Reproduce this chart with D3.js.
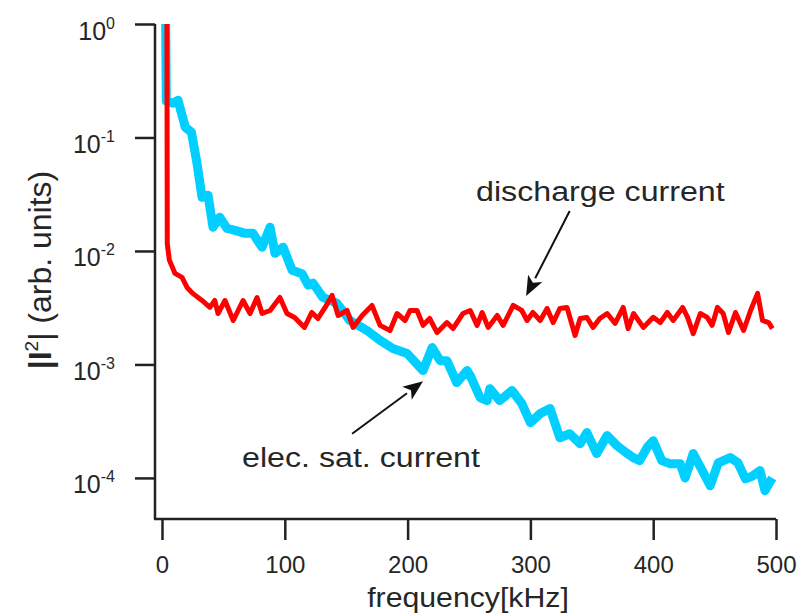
<!DOCTYPE html>
<html>
<head>
<meta charset="utf-8">
<script src="https://cdn.jsdelivr.net/npm/d3@7"></script>
<style>
  body { margin: 0; background: #fff; }
  svg { display: block; }
  text { font-family: "Liberation Sans", Arial, Helvetica, sans-serif; fill: #262626; }
</style>
</head>
<body>
<svg id="chart" width="798" height="614"></svg>
<script>
// Power spectra |I^2| versus frequency (kHz)
const xTickValues = [0, 100, 200, 300, 400, 500];
const yTickExponents = [0, -1, -2, -3, -4];

// electron saturation current spectrum
const satFreq = [3, 3.5, 9, 13, 19, 24, 28.5, 32.6, 37.5, 41.5,
  47, 53, 59.5, 67.6, 74, 81.5, 88, 92, 98.6, 106,
  114, 119, 123, 127, 131, 142.6, 153, 167, 177.6, 188,
  199.6, 212.6, 220, 226.5, 232, 240, 248.5, 251, 259, 264.7,
  267, 275, 285, 293, 300, 308, 316, 324, 332, 340.5,
  346, 354, 362.5, 370.6, 379, 383.7, 389, 395, 400, 407,
  414, 422, 426, 432.6, 440, 446.4, 453, 462.7, 469, 475,
  481, 487, 491, 497];
const satPower = [1.0, 0.21, 0.20, 0.213, 0.123, 0.111, 0.0593, 0.0297, 0.0310, 0.0162,
  0.0198, 0.0158, 0.0152, 0.0143, 0.0143, 0.0108, 0.0162, 0.00953, 0.0108, 0.00675,
  0.0063, 0.0050, 0.0052, 0.0045, 0.0039, 0.00345, 0.00244, 0.00199, 0.00163, 0.00138,
  0.00125, 0.000883, 0.00141, 0.00108, 0.00108, 0.000692, 0.000883, 0.000798, 0.000511, 0.00048,
  0.000612, 0.00048, 0.000589, 0.000452, 0.000307, 0.000369, 0.000408, 0.000226, 0.000245, 0.0002,
  0.000251, 0.000164, 0.000236, 0.000192, 0.000164, 0.000151, 0.000142, 0.000185, 0.000213, 0.000142,
  0.000133, 0.000133, 0.0001, 0.000164, 0.000116, 0.0000853, 0.000136, 0.000151, 0.000136, 0.0000984,
  0.000104, 0.000116, 0.0000771, 0.0001];

// discharge current spectrum
const dischargeFreq = [4, 4.3, 6, 10.6, 16.3, 20.4, 25, 32.6, 39, 43,
  45.6, 51.3, 58, 66, 71.7, 77.4, 81.5, 88, 96, 101.8,
  108, 116, 122, 127, 132.8, 138.5, 143.4, 150.7, 155.6, 163,
  171, 177.6, 185.7, 191.4, 198, 202, 207.7, 212.6, 218, 224,
  232, 237, 245, 251, 256.6, 260.7, 265.6, 273, 277.8, 286,
  293, 297.3, 302, 308, 313.6, 318.5, 324, 329.8, 336.4, 340.5,
  346, 351, 356.5, 362.5, 369, 375.6, 379.6, 384, 392, 400,
  405.8, 411.5, 416.3, 424, 428, 432.6, 438.4, 444, 448, 452.3,
  457, 461.3, 467, 473.6, 479.3, 485, 489, 494, 497];
const dischargePower = [1.0, 0.0115, 0.0083, 0.00634, 0.00585, 0.00477, 0.00423, 0.00366, 0.00318, 0.00366,
  0.00281, 0.00366, 0.00244, 0.00366, 0.00281, 0.00389, 0.00281, 0.00299, 0.00389, 0.00281,
  0.00259, 0.00212, 0.00287, 0.00254, 0.00318, 0.00406, 0.0027, 0.00299, 0.00212, 0.0027,
  0.00331, 0.00221, 0.00199, 0.00281, 0.00244, 0.00299, 0.00299, 0.00221, 0.00254, 0.00191,
  0.00234, 0.00207, 0.00281, 0.00299, 0.00221, 0.00287, 0.00212, 0.0027, 0.00221, 0.00331,
  0.00299, 0.00244, 0.00287, 0.00244, 0.00311, 0.00234, 0.00311, 0.00318, 0.0018, 0.00254,
  0.00259, 0.00212, 0.00254, 0.00281, 0.0023, 0.00318, 0.00207, 0.00281, 0.00212, 0.0026,
  0.00234, 0.00287, 0.00244, 0.00318, 0.0026, 0.00187, 0.00281, 0.0026, 0.00221, 0.00318,
  0.00281, 0.00191, 0.00287, 0.00199, 0.00299, 0.00423, 0.00244, 0.00234, 0.00207];

// annotation labels: text anchor and arrow (tail -> tip) in data units
const annotations = [
  { text: "discharge current", tx: 357, ty: 0.0275, from: [332, 0.0225], to: [296.5, 0.0040] },
  { text: "elec. sat. current", tx: 162, ty: 0.000126, from: [154.8, 0.000245], to: [212.6, 0.00071] }
];

const svg = d3.select("#chart");
const x = d3.scaleLinear().domain([0, 500]).range([162, 776]);
const y = d3.scaleLog().domain([Math.pow(10, -4.362), 1]).range([519, 24]);

const axisColor = "#222";
const textColor = "#262626";
const xLeft = 155, yBottom = 519;

// text drawn slightly widened horizontally, centred on (cx, cy)
function wideText(parent, cx, cy, size, sx, str) {
  return parent.append("g").attr("transform", `translate(${cx},${cy}) scale(${sx},1)`)
    .append("text").attr("text-anchor", "middle").attr("font-size", size)
    .attr("fill", textColor).text(str);
}

// clip region for the traces
svg.append("clipPath").attr("id", "plotClip")
  .append("rect").attr("x", xLeft).attr("y", y(1)).attr("width", 640).attr("height", yBottom - y(1));

const line = d3.line().x(d => x(d[0])).y(d => y(d[1]));
const satData = satFreq.map((f, i) => [f, satPower[i]]);
const dischargeData = dischargeFreq.map((f, i) => [f, dischargePower[i]]);

const traces = svg.append("g").attr("clip-path", "url(#plotClip)");
traces.append("path").datum(satData).attr("d", line)
  .attr("fill", "none").attr("stroke", "#00CFFF").attr("stroke-width", 9)
  .attr("stroke-linejoin", "round").attr("stroke-linecap", "butt");
traces.append("path").datum(dischargeData).attr("d", line)
  .attr("fill", "none").attr("stroke", "#FF0000").attr("stroke-width", 5)
  .attr("stroke-linejoin", "round").attr("stroke-linecap", "butt");

// x axis
const xAxis = d3.axisBottom(x).tickValues(xTickValues).tickSize(21).tickPadding(16)
  .tickFormat(d3.format("d"));
const gx = svg.append("g").attr("transform", `translate(0,${yBottom})`).call(xAxis);
gx.select(".domain").remove();
gx.selectAll(".tick line").attr("stroke", axisColor).attr("stroke-width", 2.5);
gx.selectAll(".tick text").attr("font-size", 24).attr("font-family", null).attr("fill", textColor);

// y axis (log, decade ticks)
const yAxis = d3.axisLeft(y).tickValues(yTickExponents.map(e => Math.pow(10, e)))
  .tickSize(20).tickFormat("");
const gy = svg.append("g").attr("transform", `translate(${xLeft},0)`).call(yAxis);
gy.select(".domain").remove();
gy.selectAll(".tick line").attr("stroke", axisColor).attr("stroke-width", 2.5);
gy.selectAll(".tick").each(function(d) {
  const t = d3.select(this).append("text").attr("x", -40).attr("y", 15)
    .attr("text-anchor", "end").attr("font-size", 25).attr("fill", textColor).attr("font-family", null);
  t.append("tspan").text("10");
  t.append("tspan").attr("font-size", 16).attr("dy", -11).text(String(Math.round(Math.log10(d))));
});

// axis lines
svg.append("line").attr("x1", xLeft).attr("x2", xLeft).attr("y1", y(1)).attr("y2", yBottom)
  .attr("stroke", axisColor).attr("stroke-width", 2.5);
svg.append("line").attr("x1", xLeft - 1).attr("x2", x(500)).attr("y1", yBottom).attr("y2", yBottom)
  .attr("stroke", axisColor).attr("stroke-width", 2.5);

// axis titles
wideText(svg, 468, 607, 28, 1.08, "frequency[kHz]");

const yt = svg.append("text").attr("transform", "translate(51,270) rotate(-90)")
  .attr("text-anchor", "middle").attr("font-size", 32).attr("fill", textColor);
yt.append("tspan").attr("font-weight", "bold").text("|I");
yt.append("tspan").attr("font-size", 19).attr("dy", -13).text("2");
yt.append("tspan").attr("dy", 13).text("| (arb. units)");

// annotations with arrows
annotations.forEach(a => {
  const x1 = x(a.from[0]), y1 = y(a.from[1]);
  const x2 = x(a.to[0]), y2 = y(a.to[1]);
  const ang = Math.atan2(y2 - y1, x2 - x1);
  const headLen = 20, headHalf = 8;
  const bx = x2 - headLen * Math.cos(ang), by = y2 - headLen * Math.sin(ang);
  svg.append("line").attr("x1", x1).attr("y1", y1).attr("x2", bx).attr("y2", by)
    .attr("stroke", "#111").attr("stroke-width", 2);
  const px = -Math.sin(ang), py = Math.cos(ang);
  svg.append("path")
    .attr("d", `M${x2},${y2}L${bx + px * headHalf},${by + py * headHalf}L${bx + Math.cos(ang) * 5},${by + Math.sin(ang) * 5}L${bx - px * headHalf},${by - py * headHalf}Z`)
    .attr("fill", "#111");
  wideText(svg, x(a.tx), y(a.ty), 28, 1.15, a.text);
});
</script>
</body>
</html>
